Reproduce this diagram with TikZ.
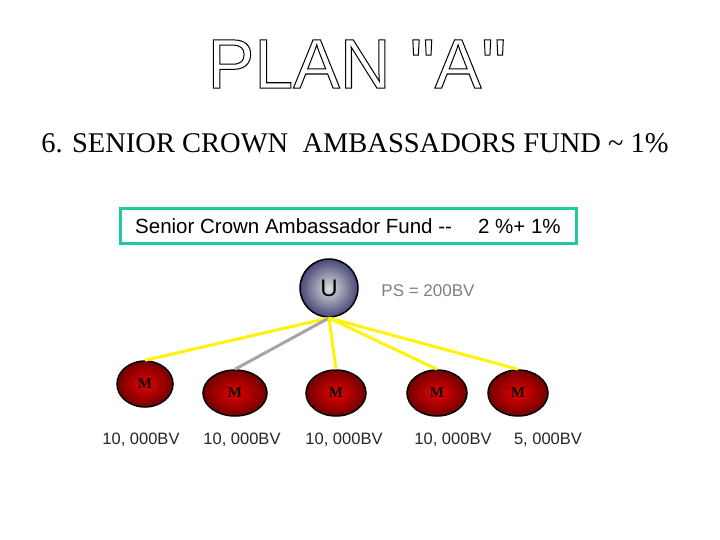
\documentclass[tikz,border=0pt]{standalone}
\usepackage{fontspec}
\setmainfont{Liberation Serif}
\newfontfamily\arial{Liberation Sans}
\definecolor{boxc}{RGB}{32,200,160}
\begin{document}
\begin{tikzpicture}[x=1pt,y=-1pt,
  mnode/.style={ellipse,draw=black,line width=1.5pt,inner color=red!90!black,outer color=red!45!black,minimum width=60pt,minimum height=46pt,font=\bfseries\fontsize{15}{15}\selectfont,text=black},
  yl/.style={draw=yellow!95!white,line width=3pt},
  bv/.style={font=\arial\fontsize{16.5}{16.5}\selectfont,text=black!85}]
\usetikzlibrary{shapes.geometric}
\useasboundingbox[fill=white] (0,0) rectangle (720,540);
\node (title) at (357,64) {\arial\fontsize{70}{70}\selectfont\special{pdf:code 1 Tr 1 w}PLAN "A"\special{pdf:code 0 Tr}};
\node (sub) at (355,143) {\fontsize{28.5}{28.5}\selectfont 6. SENIOR CROWN\ \ AMBASSADORS FUND \textasciitilde\ 1\%};
\node[draw=boxc,line width=3pt,minimum width=456pt,minimum height=35pt] (box) at (348,226) {};
\node[font=\arial\fontsize{20.5}{20.5}\selectfont] (bt) at (348,226) {Senior Crown Ambassador Fund --\quad\ 2 \%+ 1\%};
\node[circle,draw=black,line width=1.5pt,minimum size=58pt,inner color=blue!5!gray!25,outer color=blue!25!gray!75!black,font=\arial\fontsize{24}{24}\selectfont] (u) at (329,288) {U};
\node[font=\arial\fontsize{17}{17}\selectfont,text=gray] (ps) at (428,291) {PS = 200BV};
\coordinate (h) at (329,318);
\node[mnode,minimum width=56pt] (m1) at (145,384) {M};
\node[mnode,minimum width=64pt] (m2) at (235,393) {M};
\node[mnode] (m3) at (336,393) {M};
\node[mnode] (m4) at (437,393) {M};
\node[mnode] (m5) at (518,393) {M};
\draw[yl] (h) -- (m1.north);
\draw[draw=gray!70,line width=3pt] (h) -- (m2.north);
\draw[yl] (h) -- (m3.north);
\draw[yl] (h) -- (m4.north);
\draw[yl] (h) -- (m5.north);
\node[bv] (l1) at (141,440) {10, 000BV};
\node[bv] (l2) at (242,440) {10, 000BV};
\node[bv] (l3) at (344,440) {10, 000BV};
\node[bv] (l4) at (453,440) {10, 000BV};
\node[bv] (l5) at (548,440) {5, 000BV};
\end{tikzpicture}
\end{document}
